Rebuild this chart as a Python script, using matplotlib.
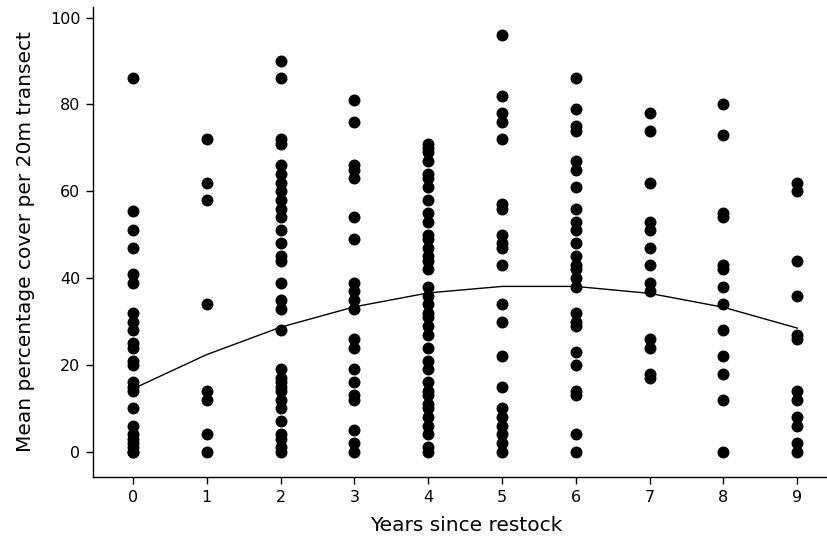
import numpy as np
import matplotlib
matplotlib.use("Agg")
import matplotlib.pyplot as plt

# cover values per year since restock
cover_0 = [86, 55.5, 51, 47, 41, 39, 32, 30, 28, 25, 24, 21, 20, 16, 15, 14, 10, 6, 4, 3, 2, 1, 0, 0]
cover_1 = [72, 62, 58, 34, 14, 12, 4, 0]
cover_2 = [90, 86, 72, 71, 66, 64, 62, 60, 58, 56, 54, 51, 48, 45, 44, 39, 35, 33, 28,
           19, 17, 16, 15, 14, 12, 10, 7, 4, 3, 1, 0]
cover_3 = [81, 76, 66, 65, 63, 54, 49, 39, 37, 35, 33, 26, 24, 19, 16, 13, 12, 5, 2, 0]
cover_4 = [71, 70, 69, 67, 64, 63, 61, 58, 55, 53, 50, 49, 47, 45, 44, 42, 38, 36, 34,
           32, 31, 29, 27, 24, 21, 19, 16, 14, 13, 11, 10, 8, 6, 4, 1, 0]
cover_5 = [96, 82, 78, 76, 72, 57, 56, 50, 48, 47, 43, 34, 30, 22, 15, 10, 8, 6, 4, 2, 0]
cover_6 = [86, 79, 75, 74, 67, 65, 61, 56, 53, 51, 48, 45, 43, 42, 40, 38, 32, 30, 29,
           23, 20, 14, 13, 4, 0]
cover_7 = [78, 74, 62, 53, 51, 47, 43, 39, 37, 26, 24, 18, 17]
cover_8 = [80, 73, 55, 54, 43, 42, 38, 34, 28, 22, 18, 12, 0]
cover_9 = [62, 60, 44, 36, 27, 26, 14, 12, 8, 6, 2, 0]

years = list(range(10))
covers = [cover_0, cover_1, cover_2, cover_3, cover_4, cover_5, cover_6, cover_7, cover_8, cover_9]

# fitted curve at each year
fit = [14.5, 22.4, 28.7, 33.4, 36.6, 38.1, 38.1, 36.5, 33.3, 28.5]

plt.rcParams['font.family'] = ['DejaVu Sans']

fig = plt.figure(figsize=(8.27, 5.43), dpi=100)
ax = fig.add_axes([0.1125, 0.1215, 0.9015, 0.866])

for yr, cv in zip(years, covers):
    ax.plot([yr]*len(cv), cv, 'o', color='black', markersize=8.6, markeredgewidth=0)
ax.plot(years, fit, color='black', linewidth=1.0)

ax.set_xlim(-0.54, 9.56)
ax.set_ylim(-5.8, 102.5)
ax.set_xticks(years)
ax.set_yticks([0, 20, 40, 60, 80, 100])
for s in ['top', 'right']:
    ax.spines[s].set_visible(False)
for s in ['left', 'bottom']:
    ax.spines[s].set_linewidth(1.0)
ax.tick_params(direction='out', length=5, width=1.0, labelsize=11.5, pad=4)
ax.set_xlabel('Years since restock', fontsize=14.5, labelpad=8)
ax.set_ylabel('Mean percentage cover per 20m transect', fontsize=14.5, labelpad=11)

fig.savefig('out.png', dpi=100)
